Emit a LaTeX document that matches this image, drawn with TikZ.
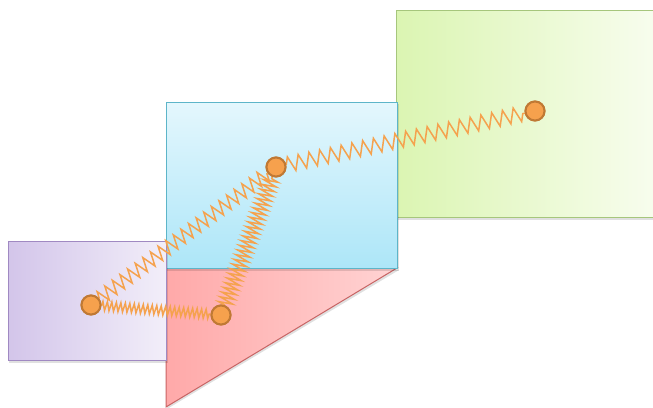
\documentclass[tikz,border=0pt]{standalone}
\usetikzlibrary{decorations.pathmorphing}
\definecolor{purpL}{HTML}{D3C5EA}
\definecolor{purpR}{HTML}{F2EEF9}
\definecolor{purpB}{HTML}{A089C2}
\definecolor{redL}{HTML}{FFA9A9}
\definecolor{redR}{HTML}{FFD3D3}
\definecolor{redB}{HTML}{C86464}
\definecolor{bluT}{HTML}{E4F7FD}
\definecolor{bluB}{HTML}{ADE6F8}
\definecolor{bluE}{HTML}{5DB5C9}
\definecolor{grnL}{HTML}{DBF5B2}
\definecolor{grnR}{HTML}{F8FDEF}
\definecolor{grnE}{HTML}{A6C67C}
\definecolor{ballF}{HTML}{F6A14D}
\definecolor{ballE}{HTML}{C07934}
\definecolor{spr}{HTML}{F5A24E}
\tikzset{
  ball/.style={circle, minimum size=19pt, inner sep=0pt, fill=ballF, draw=ballE, line width=2pt},
  spring/.style={draw=spr, line width=1.5pt, decorate},
  shadowfill/.style={fill=black, opacity=0.12},
  edge/.style={line width=1pt}
}
\begin{document}
\begin{tikzpicture}[x=1pt,y=-1pt]
\useasboundingbox (0,0) rectangle (653,407);
\clip (0,0) rectangle (653,407);
% green
\fill[shadowfill] (397,12) rectangle (660,220);
\shade[left color=grnL, right color=grnR] (396,10) rectangle (660,217);
\draw[grnE, edge] (660,10) -- (396,10) -- (396,217) -- (660,217);
% red triangle
\fill[shadowfill] (167,270) -- (399,270) -- (167,409) -- cycle;
\shade[left color=redL, right color=redR] (166,268) -- (397,268) -- (166,407) -- cycle;
\draw[redB, edge] (166,268) -- (397,268) -- (166,407) -- cycle;
% blue
\fill[shadowfill] (167,104) rectangle (399,271);
\shade[top color=bluT, bottom color=bluB] (166,102) rectangle (397,268);
\draw[bluE, edge] (166,102) rectangle (397,268);
% purple
\fill[shadowfill] (9,243) rectangle (168,363);
\shade[left color=purpL, right color=purpR] (8,241) rectangle (166,360);
\draw[purpB, edge] (8,241) rectangle (166,360);
% balls
\node[ball] (a) at (91,305) {};
\node[ball] (b) at (221,315) {};
\node[ball] (c) at (276,167) {};
\node[ball] (d) at (535,111) {};
% springs
\draw[spring, decoration={zigzag, segment length=4.5pt, amplitude=4.5pt}] (a) -- (b);
\draw[spring, decoration={zigzag, segment length=9.5pt, amplitude=7pt}] (a) -- (c);
\draw[spring, decoration={zigzag, segment length=5pt, amplitude=7pt}] (b) -- (c);
\draw[spring, decoration={zigzag, segment length=11pt, amplitude=7.5pt}] (c) -- (d);
% balls on top
\node[ball] at (a) {};
\node[ball] at (b) {};
\node[ball] at (c) {};
\node[ball] at (d) {};
\end{tikzpicture}
\end{document}
